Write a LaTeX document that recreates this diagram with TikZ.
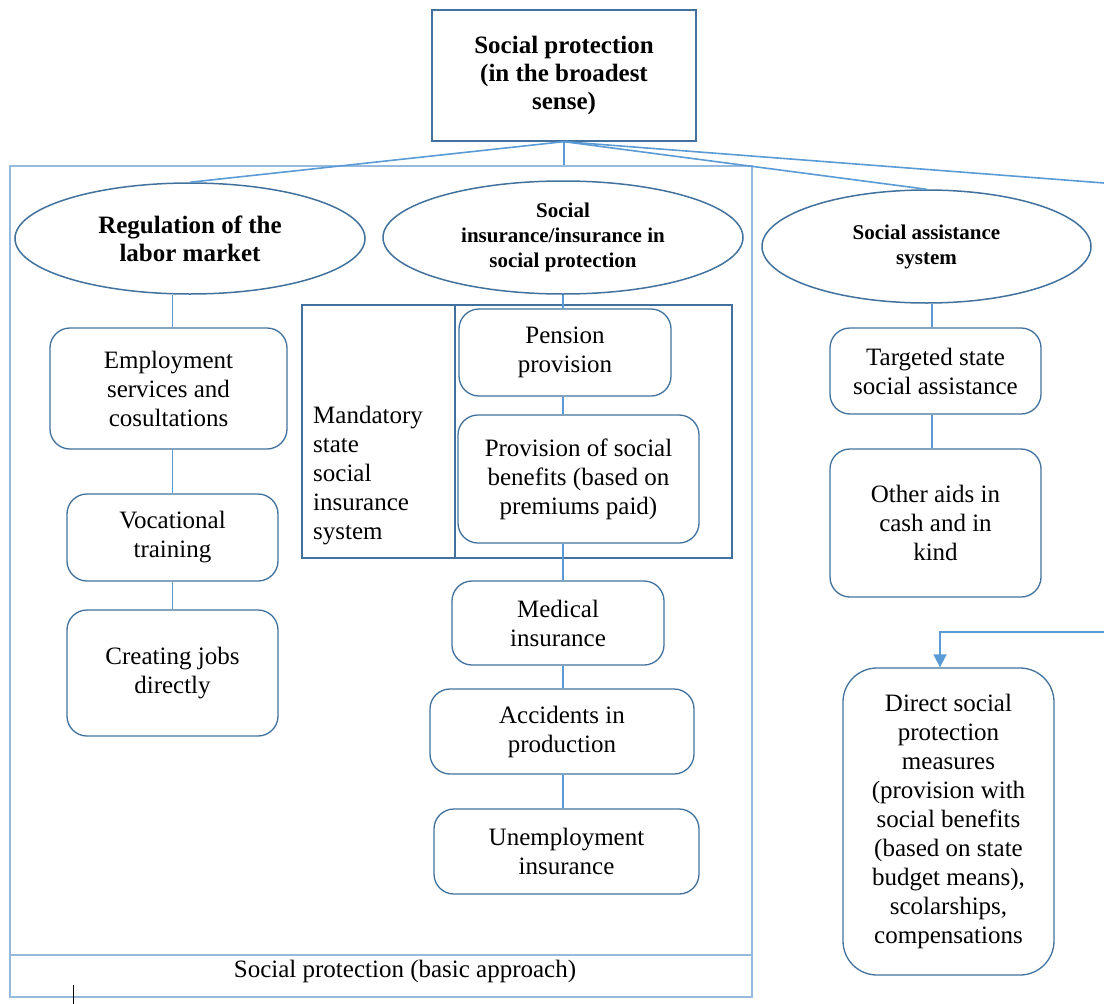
\documentclass[tikz,border=0pt]{standalone}
\usepackage{fontspec}
\setmainfont{Liberation Serif}
\usetikzlibrary{shapes.geometric,arrows.meta}
\definecolor{shapeblue}{RGB}{65,113,156}
\definecolor{linkblue}{RGB}{91,155,213}
\definecolor{frameblue}{RGB}{150,185,222}
\tikzset{
  topbox/.style={draw=shapeblue, line width=1.3pt, align=center, font=\fontsize{25}{28}\selectfont\bfseries, inner sep=0pt},
  oval/.style={ellipse, draw=shapeblue, line width=1.5pt, align=center, inner sep=0pt, font=\fontsize{25}{28}\selectfont\bfseries},
  smalloval/.style={oval, font=\fontsize{21}{25}\selectfont\bfseries},
  rbox/.style={draw=shapeblue, rounded corners=20pt, line width=1.3pt, align=center, inner sep=0pt, font=\fontsize{25}{29}\selectfont},
  frame/.style={draw=frameblue, line width=1.2pt, inner sep=0pt},
  link/.style={linkblue, line width=1.6pt}
}

\begin{document}
\begin{tikzpicture}[x=1pt,y=-1pt]
  \useasboundingbox (0,0) rectangle (1104,1004);

  % outer frame of the basic approach
  \node[frame, minimum width=742pt, minimum height=831pt] (basic) at (381,581.5) {};
  \draw[frame] (basic.west |- 0,955) -- (basic.east |- 0,955);
  \node[font=\fontsize{25}{29}\selectfont] (caption) at (405,971) {Social protection (basic approach)};

  % top
  \node[topbox, minimum width=264pt, minimum height=131pt] (top) at (564,75.5) {Social protection\\(in the broadest\\sense)};

  % ellipses
  \node[oval, minimum width=350pt, minimum height=111pt] (lel) at (190,238.5) {Regulation of the\\labor market};
  \node[smalloval, minimum width=360pt, minimum height=113pt] (mel) at (563,237.5) {Social\\insurance/insurance in\\social protection};
  \node[smalloval, minimum width=329pt, minimum height=113pt] (rel) at (926.5,246.5) {Social assistance\\system};

  \coordinate (e1) at (1104,183);
  \coordinate (e2) at (1104,632);
  \draw[link] (top.south) -- (lel.north);
  \draw[link] (top.south) -- (top.south |- basic.north);
  \draw[link] (top.south) -- (rel.north);
  \draw[link] (top.south) -- (e1);

  % left column
  \node[rbox, minimum width=237pt, minimum height=121pt] (emp) at (168.5,388.5) {Employment\\services and\\cosultations};
  \node[rbox, minimum width=211pt, minimum height=87pt] (voc) at (172.5,537.5) {Vocational\\training};
  \node[rbox, minimum width=211pt, minimum height=126pt] (jobs) at (172.5,673) {Creating jobs\\directly};
  \draw[link] (lel.south -| voc.north) -- (emp.north -| voc.north);
  \draw[link] (emp.south -| voc.north) -- (voc.north);
  \draw[link] (voc.south) -- (jobs.north);

  % middle column
  \node[draw=shapeblue, line width=1.3pt, inner sep=0pt, minimum width=430pt, minimum height=253pt] (ins) at (517,431.5) {};
  \draw[draw=shapeblue, line width=1.3pt] (455,0 |- ins.north) -- (455,0 |- ins.south);
  \node[anchor=west, align=left, inner sep=0pt, font=\fontsize{25}{29}\selectfont] (mand) at (313,476) {Mandatory\\state\\social\\insurance\\system};
  \node[rbox, minimum width=212pt, minimum height=87pt] (pens) at (565,352.5) {Pension\\provision};
  \node[rbox, minimum width=241pt, minimum height=128pt] (bene) at (578.5,479) {Provision of social\\benefits (based on\\premiums paid)};
  \node[rbox, minimum width=212pt, minimum height=84pt] (med) at (558,623) {Medical\\insurance};
  \node[rbox, minimum width=264pt, minimum height=85pt] (acc) at (562,731.5) {Accidents in\\production};
  \node[rbox, minimum width=265pt, minimum height=85pt] (unemp) at (566.5,851.5) {Unemployment\\insurance};
  \draw[link] (mel.south) -- (pens.north -| mel.south);
  \draw[link] (pens.south -| mel.south) -- (bene.north -| mel.south);
  \draw[link] (bene.south -| mel.south) -- (med.north -| mel.south);
  \draw[link] (med.south -| mel.south) -- (acc.north -| mel.south);
  \draw[link] (acc.south -| mel.south) -- (unemp.north -| mel.south);

  % right column
  \node[rbox, minimum width=211pt, minimum height=86pt] (targ) at (935.5,371) {Targeted state\\social assistance};
  \node[rbox, minimum width=211pt, minimum height=148pt] (aids) at (935.5,523) {Other aids in\\cash and in\\kind};
  \node[rbox, rounded corners=34pt, minimum width=211pt, minimum height=307pt] (direct) at (948.5,821.5) {Direct social\\protection\\measures\\(provision with\\social benefits\\(based on state\\budget means),\\scolarships,\\compensations};
  \draw[link] (rel.south -| 932,0) -- (targ.north -| 932,0);
  \draw[link] (targ.south -| 932,0) -- (aids.north -| 932,0);
  \draw[link, -{Triangle[length=13pt,width=13pt]}] (e2) -| ([xshift=-8.5pt]direct.north);

  \draw[black, line width=1pt] (73,985) -- (73,1004);
\end{tikzpicture}
\end{document}
